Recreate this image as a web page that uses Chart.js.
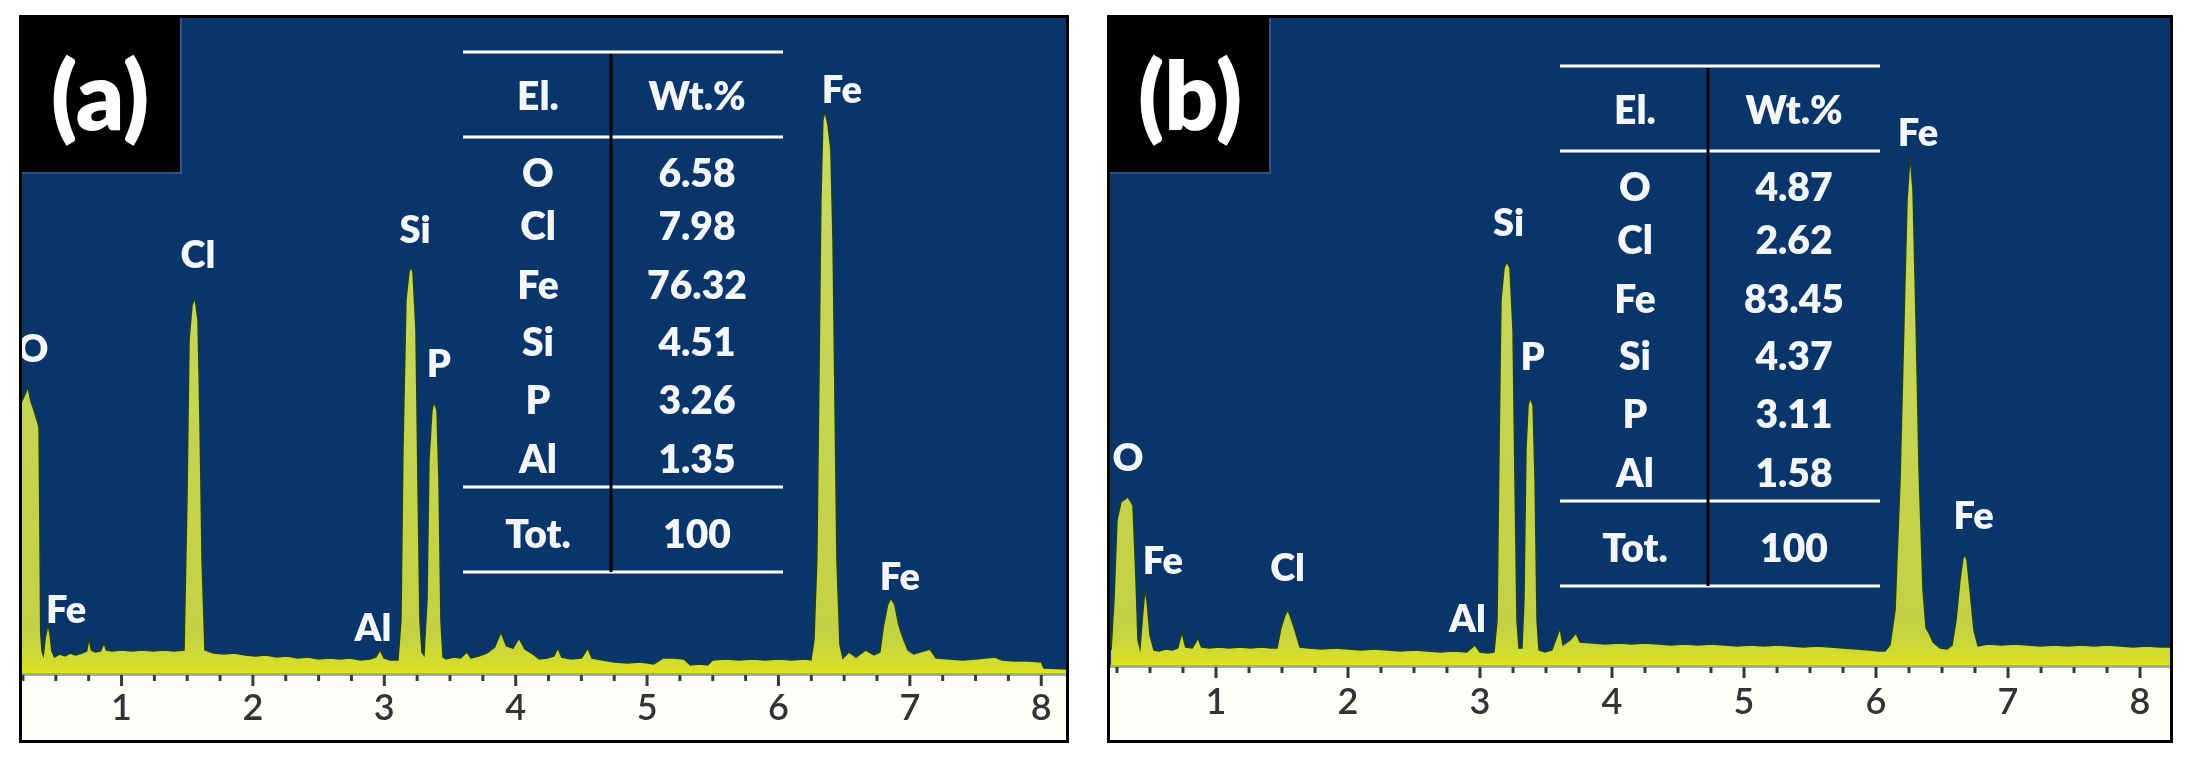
<!DOCTYPE html>
<html>
<head>
<meta charset="utf-8">
<script src="https://cdn.jsdelivr.net/npm/chart.js@4.4.1/dist/chart.umd.min.js"></script>
<style>
  html, body { margin: 0; padding: 0; background: #fff; }
  body { width: 2201px; height: 766px; position: relative; overflow: hidden; }
  .panel { position: absolute; top: 15px; }
  #pa { left: 19px; }
  #pb { left: 1107px; }
</style>
</head>
<body>
<div class="panel" id="pa"><canvas id="chartA" width="1050" height="728"></canvas></div>
<div class="panel" id="pb"><canvas id="chartB" width="1066" height="728"></canvas></div>
<script>
const BLUE = '#08356a';

// spectrum (a): energy (keV) / counts
const energyA = [
  0.235, 0.27, 0.288, 0.31, 0.326, 0.357, 0.372, 0.378, 0.385, 0.395, 0.405, 0.42, 0.44, 0.455, 0.47, 0.49,
  0.53, 0.57, 0.61, 0.65, 0.70, 0.735, 0.753, 0.77, 0.80, 0.84, 0.867, 0.885, 0.93, 1.00, 1.08, 1.16,
  1.24, 1.32, 1.40, 1.476, 1.498, 1.514, 1.537, 1.559, 1.582, 1.597, 1.613, 1.635, 1.70, 1.78, 1.86, 1.94,
  2.02, 2.10, 2.18, 2.26, 2.34, 2.42, 2.50, 2.58, 2.66, 2.74, 2.82, 2.891, 2.937, 2.967, 2.998, 3.043,
  3.081, 3.104, 3.127, 3.142, 3.165, 3.188, 3.203, 3.218, 3.241, 3.256, 3.271, 3.287, 3.302, 3.325, 3.340, 3.363,
  3.378, 3.401, 3.416, 3.431, 3.447, 3.47, 3.53, 3.58, 3.629, 3.66, 3.72, 3.78, 3.84, 3.888, 3.93, 3.98,
  4.025, 4.07, 4.12, 4.18, 4.24, 4.29, 4.322, 4.35, 4.42, 4.50, 4.55, 4.58, 4.66, 4.75, 4.85, 4.95,
  5.05, 5.12, 5.20, 5.28, 5.33, 5.40, 5.46, 5.50, 5.60, 5.70, 5.80, 5.90, 6.00, 6.10, 6.20, 6.247,
  6.270, 6.292, 6.308, 6.323, 6.338, 6.354, 6.377, 6.399, 6.415, 6.430, 6.445, 6.468, 6.491, 6.537, 6.590, 6.666,
  6.727, 6.772, 6.800, 6.830, 6.856, 6.886, 6.916, 6.946, 6.985, 7.03, 7.153, 7.20, 7.30, 7.40, 7.50, 7.648,
  7.70, 7.80, 7.90, 8.00, 8.02, 8.196
];
const countsA = [
  1350, 1400, 1430, 1360, 1330, 1265, 1230, 800, 200, 110, 90, 180, 240, 200, 110, 80,
  95, 85, 100, 90, 100, 110, 175, 115, 105, 110, 150, 115, 110, 115, 110, 115,
  110, 115, 110, 115, 865, 1665, 1840, 1875, 1765, 1265, 565, 115, 100, 95, 100, 90,
  85, 90, 80, 85, 75, 80, 70, 75, 70, 75, 65, 70, 80, 115, 75, 65,
  65, 65, 265, 1115, 1865, 2005, 2030, 2005, 1715, 965, 265, 105, 90, 365, 1065, 1315,
  1355, 1315, 965, 265, 80, 70, 80, 75, 105, 75, 85, 100, 130, 205, 135, 125,
  175, 120, 100, 70, 75, 85, 125, 80, 70, 75, 125, 75, 65, 55, 50, 55,
  45, 75, 75, 70, 40, 45, 40, 65, 70, 65, 70, 65, 70, 65, 70, 65,
  165, 565, 1465, 2365, 2765, 2810, 2740, 2615, 2165, 1365, 565, 140, 75, 105, 80, 115,
  90, 105, 240, 340, 375, 340, 240, 180, 115, 95, 120, 75, 70, 65, 70, 80,
  65, 60, 60, 55, 25, 20
];

// spectrum (b): energy (keV) / counts
const energyB = [
  0.205, 0.227, 0.250, 0.280, 0.333, 0.371, 0.394, 0.409, 0.424, 0.447, 0.462, 0.477, 0.500, 0.530, 0.57, 0.62,
  0.67, 0.71, 0.742, 0.77, 0.82, 0.864, 0.89, 0.95, 1.02, 1.10, 1.18, 1.26, 1.34, 1.42, 1.462, 1.492,
  1.523, 1.545, 1.568, 1.598, 1.636, 1.70, 1.80, 1.90, 2.00, 2.10, 2.20, 2.30, 2.40, 2.50, 2.60, 2.70,
  2.80, 2.90, 2.962, 3.00, 3.06, 3.106, 3.129, 3.144, 3.159, 3.182, 3.205, 3.227, 3.250, 3.265, 3.280, 3.295,
  3.318, 3.333, 3.348, 3.364, 3.379, 3.402, 3.417, 3.432, 3.447, 3.492, 3.545, 3.606, 3.629, 3.682, 3.727, 3.758,
  3.85, 3.95, 4.05, 4.15, 4.25, 4.35, 4.45, 4.55, 4.65, 4.75, 4.85, 4.95, 5.05, 5.15, 5.25, 5.35,
  5.45, 5.55, 5.65, 5.75, 5.85, 5.95, 6.02, 6.068, 6.106, 6.144, 6.182, 6.212, 6.235, 6.258, 6.280, 6.303,
  6.326, 6.356, 6.379, 6.402, 6.432, 6.485, 6.538, 6.576, 6.606, 6.636, 6.659, 6.674, 6.689, 6.712, 6.742, 6.773,
  6.85, 6.95, 7.05, 7.15, 7.25, 7.35, 7.45, 7.55, 7.65, 7.75, 7.85, 7.95, 8.05, 8.15, 8.227
];
const countsB = [
  75, 325, 725, 815, 840, 800, 425, 125, 85, 275, 375, 325, 150, 75, 70, 80,
  75, 85, 165, 90, 85, 135, 90, 85, 90, 85, 90, 85, 90, 85, 85, 185,
  250, 275, 235, 175, 90, 85, 80, 85, 80, 75, 80, 75, 70, 75, 70, 65,
  70, 65, 100, 65, 60, 65, 225, 1075, 1825, 1985, 2015, 1985, 1675, 925, 225, 85,
  85, 325, 1075, 1300, 1335, 1300, 925, 225, 75, 65, 75, 185, 100, 125, 160, 115,
  110, 105, 110, 105, 110, 105, 100, 105, 100, 105, 100, 95, 100, 95, 100, 95,
  90, 95, 90, 85, 80, 75, 70, 70, 100, 275, 925, 1725, 2325, 2550, 2375, 1725,
  975, 375, 185, 160, 115, 85, 80, 100, 225, 425, 535, 550, 525, 375, 175, 95,
  105, 100, 105, 100, 95, 100, 95, 100, 95, 100, 95, 90, 95, 90, 90
];

const tickValues = [1, 2, 3, 4, 5, 6, 7, 8];
const tickLabels = ['1', '2', '3', '4', '5', '6', '7', '8'];

// peak annotations
const peakTextA = ['O', 'Fe', 'Cl', 'Al', 'Si', 'P', 'Fe', 'Fe'];
const peakEnergyA = [0.326, 0.578, 1.582, 2.914, 3.234, 3.416, 6.483, 6.924];
const peakCountsA = [1625, 320, 2095, 230, 2220, 1550, 2920, 485];
const peakTextB = ['O', 'Fe', 'Cl', 'Al', 'Si', 'P', 'Fe', 'Fe'];
const peakEnergyB = [0.333, 0.598, 1.542, 2.905, 3.216, 3.398, 6.318, 6.739];
const peakCountsB = [1040, 525, 490, 235, 2215, 1545, 2665, 752];

// composition tables
const tableElements = ['O', 'Cl', 'Fe', 'Si', 'P', 'Al'];
const wtA = ['6.58', '7.98', '76.32', '4.51', '3.26', '1.35'];
const wtB = ['4.87', '2.62', '83.45', '4.37', '3.11', '1.58'];
const totalA = '100';
const totalB = '100';

function fillGradient(c) {
  const a = c.chart.chartArea;
  if (!a) return '#c4d240';
  const g = c.chart.ctx.createLinearGradient(0, a.bottom, 0, a.top);
  g.addColorStop(0, '#e2e41e');
  g.addColorStop(0.018, '#d2dc2e');
  g.addColorStop(0.06, '#c3d143');
  g.addColorStop(1, '#c9da6c');
  return g;
}

function panelPlugin(cfg) {
  return {
    id: 'panel' + cfg.tag.replace(/\W/g, ''),
    beforeDraw(chart) {
      const { ctx, chartArea: a, width, height } = chart;
      ctx.save();
      ctx.fillStyle = '#fefefb';
      ctx.fillRect(0, 0, width, height);
      ctx.fillStyle = BLUE;
      ctx.fillRect(a.left, a.top, a.width, a.height);
      ctx.restore();
    },
    afterDatasetsDraw(chart) {
      const { ctx, chartArea: a, width, height } = chart;
      const xs = chart.scales.x, ys = chart.scales.y;
      ctx.save();

      // axis line + tick marks every 0.25 keV
      ctx.fillStyle = '#a2ac86';
      ctx.fillRect(a.left, a.bottom, a.width, 3);
      ctx.fillStyle = '#3a3a3a';
      for (let v = 0.25; v <= xs.max; v += 0.25) {
        if (v < xs.min) continue;
        const px = xs.getPixelForValue(v);
        const major = Math.abs(v - Math.round(v)) < 1e-6;
        ctx.fillRect(px - 1.5, a.bottom + 2, 3, major ? 11 : 6);
      }

      // peak labels
      ctx.save();
      ctx.beginPath();
      ctx.rect(a.left, a.top, a.width, a.height);
      ctx.clip();
      ctx.font = '800 38px Lato';
      ctx.fillStyle = '#f4f6fa';
      ctx.textAlign = 'center';
      ctx.textBaseline = 'alphabetic';
      cfg.peakText.forEach((t, i) => {
        ctx.fillText(t, xs.getPixelForValue(cfg.peakE[i]), ys.getPixelForValue(cfg.peakC[i]) + 14);
      });
      ctx.restore();

      // table
      const tx = cfg.table.x, ty = cfg.table.y;
      const W = 320, DIV = 148;
      ctx.fillStyle = '#ffffff';
      [0, 85, 435, 520].forEach(dy => ctx.fillRect(tx, ty + dy - 1.5, W, 3));
      ctx.fillStyle = '#000000';
      ctx.fillRect(tx + DIV - 1.5, ty + 2, 3, 518);
      ctx.font = '800 39px Lato';
      ctx.fillStyle = '#f4f6fa';
      ctx.textAlign = 'center';
      const c1 = tx + 75, c2 = tx + 234, off = 14;
      ctx.fillText('El.', c1, ty + 44 + off);
      ctx.fillText('Wt.%', c2, ty + 44 + off);
      const rows = [121, 174, 233, 290, 348, 407];
      tableElements.forEach((el, i) => {
        ctx.fillText(el, c1, ty + rows[i] + off);
        ctx.fillText(cfg.wt[i], c2, ty + rows[i] + off);
      });
      ctx.fillText('Tot.', c1, ty + 482 + off);
      ctx.fillText(cfg.total, c2, ty + 482 + off);

      // panel tag
      ctx.fillStyle = '#000000';
      ctx.fillRect(1, 1, cfg.box.w, cfg.box.h);
      ctx.strokeStyle = '#34528a';
      ctx.lineWidth = 2;
      ctx.strokeRect(2, 2, cfg.box.w - 1, cfg.box.h - 1);
      ctx.font = '800 94px Lato';
      ctx.fillStyle = '#ffffff';
      ctx.fillText(cfg.tag, cfg.box.cx, 115);

      // frame
      ctx.strokeStyle = '#000000';
      ctx.lineWidth = 3;
      ctx.strokeRect(1.5, 1.5, width - 3, height - 3);
      ctx.restore();
    }
  };
}

function makeChart(id, cfg) {
  return new Chart(document.getElementById(id), {
    type: 'line',
    data: {
      datasets: [{
        data: cfg.energy.map((e, i) => ({ x: e, y: cfg.counts[i] })),
        borderColor: '#223f1c',
        borderWidth: 1.5,
        backgroundColor: fillGradient,
        fill: 'origin',
        pointRadius: 0,
        tension: 0
      }]
    },
    options: {
      responsive: false,
      animation: false,
      layout: { padding: cfg.padding },
      plugins: { legend: { display: false }, tooltip: { enabled: false } },
      scales: {
        x: {
          type: 'linear',
          min: cfg.xMin,
          max: cfg.xMax,
          afterBuildTicks: axis => { axis.ticks = tickValues.map(v => ({ value: v })); },
          afterFit: axis => { axis.height = cfg.axisH; },
          grid: { display: false, drawTicks: false },
          border: { display: false },
          ticks: {
            autoSkip: false,
            maxRotation: 0,
            padding: cfg.labelPad,
            color: '#333333',
            font: { family: 'Lato', size: 36, weight: '600' },
            callback: (v, i) => tickLabels[i]
          }
        },
        y: { display: false, min: 0, max: cfg.yMax }
      }
    },
    plugins: [panelPlugin(cfg)]
  });
}

makeChart('chartA', {
  tag: '(a)', energy: energyA, counts: countsA,
  xMin: 0.235, xMax: 8.196, yMax: 3280,
  padding: { left: 2, right: 2, top: 2, bottom: 2 }, axisH: 68, labelPad: 14,
  peakText: peakTextA, peakE: peakEnergyA, peakC: peakCountsA,
  wt: wtA, total: totalA,
  table: { x: 444, y: 37 }, box: { w: 161, h: 157, cx: 81 }
});

makeChart('chartB', {
  tag: '(b)', energy: energyB, counts: countsB,
  xMin: 0.197, xMax: 8.227, yMax: 3240,
  padding: { left: 3, right: 3, top: 2, bottom: 2 }, axisH: 76, labelPad: 16,
  peakText: peakTextB, peakE: peakEnergyB, peakC: peakCountsB,
  wt: wtB, total: totalB,
  table: { x: 453, y: 51 }, box: { w: 162, h: 157, cx: 83 }
});
</script>
</body>
</html>
